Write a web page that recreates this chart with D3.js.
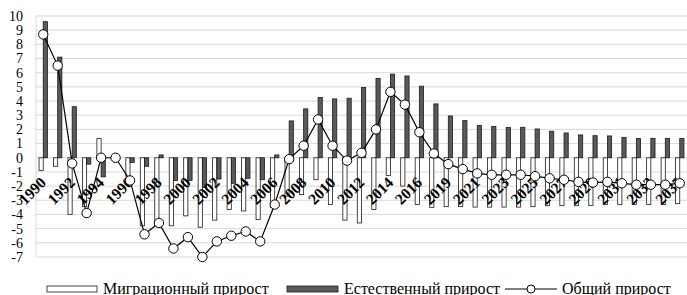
<!DOCTYPE html>
<html>
<head>
<meta charset="utf-8">
<script src="https://cdn.jsdelivr.net/npm/d3@7"></script>
<style>
  body { margin: 0; background: #fff; }
  svg { display: block; }
</style>
</head>
<body>
<div id="chart"></div>
<script>
// years on the category axis (2018 is absent in the source table)
const years = ["1990","1991","1992","1993","1994","1995","1996","1997","1998","1999",
  "2000","2001","2002","2003","2004","2005","2006","2007","2008","2009",
  "2010","2011","2012","2013","2014","2015","2016","2017","2019","2020",
  "2021","2022","2023","2024","2025","2026","2027","2028","2029","2030",
  "2031","2032","2033","2034","2035"];

// migration growth
const migration = [-0.9, -0.6, -4.0, -3.45, 1.35, 0, -1.3, -4.8, -4.8, -4.8,
  -4.1, -4.9, -4.4, -3.65, -3.75, -4.35, -3.5, -2.7, -2.6, -1.55,
  -3.3, -4.4, -4.6, -3.65, -1.25, -2.0, -3.3, -3.5, -3.45, -3.45,
  -3.48, -3.48, -3.48, -3.48, -3.45, -3.38, -3.38, -3.38, -3.36, -3.29,
  -3.31, -3.3, -3.29, -3.29, -3.24];

// natural growth
const natural = [9.6, 7.1, 3.6, -0.45, -1.35, 0, -0.33, -0.6, 0.2, -1.6,
  -1.6, -2.1, -1.5, -1.8, -1.45, -1.55, 0.2, 2.6, 3.45, 4.25,
  4.15, 4.2, 4.95, 5.6, 5.9, 5.77, 5.05, 3.8, 2.95, 2.62,
  2.27, 2.2, 2.13, 2.15, 2.03, 1.87, 1.75, 1.61, 1.56, 1.54,
  1.44, 1.35, 1.37, 1.37, 1.37];

// total growth
const total = [8.7, 6.5, -0.4, -3.9, 0, 0, -1.6, -5.4, -4.6, -6.4,
  -5.6, -7.0, -5.9, -5.5, -5.2, -5.9, -3.3, -0.1, 0.85, 2.7,
  0.85, -0.2, 0.35, 2.0, 4.65, 3.75, 1.8, 0.3, -0.45, -0.8,
  -1.1, -1.2, -1.2, -1.2, -1.3, -1.45, -1.55, -1.7, -1.75, -1.7,
  -1.8, -1.9, -1.9, -1.9, -1.8];

const yTicks = d3.range(-7, 11);

const width = 687, height = 295;
const svg = d3.select("#chart").append("svg")
  .attr("width", width).attr("height", height)
  .style("font-family", "'Liberation Serif', 'Times New Roman', serif");

const x = d3.scaleBand().domain(years).range([36, 687]).padding(0);
const y = d3.scaleLinear().domain([-7, 10]).range([257, 16]);
const bw = x.bandwidth() * 0.29;
const cx = d => x(d) + x.bandwidth() / 2;

// gridlines
svg.append("g").selectAll("line").data(yTicks).join("line")
  .attr("x1", 36).attr("x2", 687)
  .attr("y1", d => y(d)).attr("y2", d => y(d))
  .attr("stroke", "#d9d9d9").attr("stroke-width", 1);

svg.append("line")
  .attr("x1", 36).attr("x2", 36).attr("y1", y(10)).attr("y2", y(-7))
  .attr("stroke", "#d9d9d9");

// y labels
svg.append("g").selectAll("text").data(yTicks).join("text")
  .attr("x", 23).attr("y", d => y(d)).attr("dy", "0.35em")
  .attr("text-anchor", "end").style("font-size", "14px").attr("fill", "#000")
  .text(d => d);

// migration bars
svg.append("g").selectAll("rect").data(years).join("rect")
  .attr("x", d => cx(d) - bw)
  .attr("y", (d, i) => y(Math.max(0, migration[i])))
  .attr("width", bw)
  .attr("height", (d, i) => Math.abs(y(migration[i]) - y(0)))
  .attr("fill", "#fff").attr("stroke", "#1a1a1a").attr("stroke-width", 0.8);

// natural bars
svg.append("g").selectAll("rect").data(years).join("rect")
  .attr("x", d => cx(d))
  .attr("y", (d, i) => y(Math.max(0, natural[i])))
  .attr("width", bw)
  .attr("height", (d, i) => Math.abs(y(natural[i]) - y(0)))
  .attr("fill", "#5a5a5a").attr("stroke", "#1a1a1a").attr("stroke-width", 0.8);

// x labels (every second category)
svg.append("g").selectAll("text").data(years.filter((d, i) => i % 2 === 0)).join("text")
  .attr("transform", d => `translate(${cx(d)},${y(0) + 22}) rotate(-45)`)
  .attr("text-anchor", "end").attr("dy", "0.35em")
  .style("font-size", "15.5px").style("font-weight", "bold").attr("fill", "#000")
  .text(d => d);

// total line
const line = d3.line().x((d, i) => cx(years[i])).y(d => y(d));
svg.append("path").datum(total)
  .attr("d", line).attr("fill", "none").attr("stroke", "#000").attr("stroke-width", 1.2);

svg.append("g").selectAll("circle").data(total).join("circle")
  .attr("cx", (d, i) => cx(years[i])).attr("cy", d => y(d)).attr("r", 4.7)
  .attr("fill", "#fff").attr("stroke", "#000").attr("stroke-width", 1);

// legend
const lg = svg.append("g").style("font-size", "16px");
const ly = 289;
lg.append("rect").attr("x", 47).attr("y", ly - 3).attr("width", 50).attr("height", 6)
  .attr("fill", "#fff").attr("stroke", "#1a1a1a").attr("stroke-width", 0.8);
lg.append("text").attr("x", 103).attr("y", ly + 5).text("Миграционный прирост");
lg.append("rect").attr("x", 287).attr("y", ly - 3).attr("width", 51).attr("height", 6)
  .attr("fill", "#5a5a5a").attr("stroke", "#1a1a1a").attr("stroke-width", 0.8);
lg.append("text").attr("x", 344).attr("y", ly + 5).text("Естественный прирост");
lg.append("line").attr("x1", 505).attr("x2", 557).attr("y1", ly).attr("y2", ly)
  .attr("stroke", "#000").attr("stroke-width", 1.2);
lg.append("circle").attr("cx", 531).attr("cy", ly).attr("r", 4)
  .attr("fill", "#fff").attr("stroke", "#000");
lg.append("text").attr("x", 562).attr("y", ly + 5).text("Общий прирост");
</script>
</body>
</html>
